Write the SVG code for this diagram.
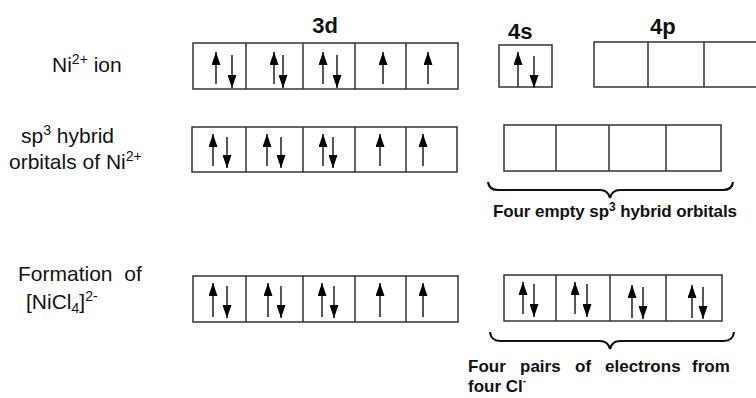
<svg xmlns="http://www.w3.org/2000/svg" width="756" height="398" viewBox="0 0 756 398">
<defs>
<marker id="ah" markerUnits="userSpaceOnUse" markerWidth="13" markerHeight="9" viewBox="0 0 13 9" refX="13" refY="4.5" orient="auto"><path d="M0,0 L13,4.5 L0,9 z" fill="#000"/></marker>
</defs>
<style>
.lbl{font-family:"Liberation Sans",Arial,sans-serif;font-size:21px;fill:#111}
.hd{font-family:"Liberation Sans",Arial,sans-serif;font-size:22px;font-weight:bold;fill:#111}
.note{font-family:"Liberation Sans",Arial,sans-serif;font-size:17px;font-weight:bold;fill:#111}
.box{fill:#fff;stroke:#333;stroke-width:1.5}
.div{stroke:#333;stroke-width:1.5}
.e{stroke:#444;stroke-width:1.8;marker-end:url(#ah);fill:none}
.brace{fill:none;stroke:#111;stroke-width:2.2}
</style>
<rect width="756" height="398" fill="#fff"/>

<g id="labels">
<text class="lbl" x="52" y="72">Ni<tspan font-size="14" dy="-8">2+</tspan><tspan dy="8"> ion</tspan></text>
<text class="lbl" x="21" y="143">sp<tspan font-size="14" dy="-8">3</tspan><tspan dy="8"> hybrid</tspan></text>
<text class="lbl" x="9" y="169">orbitals of Ni<tspan font-size="14" dy="-8">2+</tspan></text>
<text class="lbl" x="18" y="281" word-spacing="6">Formation of</text>
<text class="lbl" x="26" y="309">[NiCl<tspan font-size="14" dy="4">4</tspan><tspan dy="-4">]</tspan><tspan font-size="14" dy="-8">2-</tspan></text>
<text class="hd" x="325" y="33" text-anchor="middle">3d</text>
<text class="hd" x="508" y="39">4s</text>
<text class="hd" x="650" y="34">4p</text>
</g>

<g id="ni-3d">
<rect class="box" x="193" y="43" width="265" height="46"/>
<path class="div" d="M246,43V89M303,43V89M355,43V89M406,43V89"/>
<line class="e" x1="216" y1="84" x2="216" y2="52"/><line class="e" x1="232" y1="55" x2="232" y2="88"/>
<line class="e" x1="274" y1="84" x2="274" y2="52"/><line class="e" x1="283" y1="55" x2="283" y2="88"/>
<line class="e" x1="323" y1="84" x2="323" y2="52"/><line class="e" x1="337" y1="55" x2="337" y2="88"/>
<line class="e" x1="383" y1="84" x2="383" y2="52"/>
<line class="e" x1="428" y1="84" x2="428" y2="52"/>
</g>
<g id="ni-4s">
<rect class="box" x="499" y="45" width="53" height="42"/>
<line class="e" x1="518" y1="87" x2="518" y2="52"/><line class="e" x1="534" y1="56" x2="534" y2="88"/>
</g>
<g id="ni-4p">
<rect class="box" x="594" y="42" width="170" height="45"/>
<path class="div" d="M648,42V87M704,42V87"/>
</g>

<g id="sp3-3d">
<rect class="box" x="192" y="127" width="265" height="45"/>
<path class="div" d="M246,127V172M303,127V172M355,127V172M406,127V172"/>
<line class="e" x1="213" y1="166" x2="213" y2="134"/><line class="e" x1="227" y1="137" x2="227" y2="168"/>
<line class="e" x1="267" y1="166" x2="267" y2="134"/><line class="e" x1="281" y1="137" x2="281" y2="168"/>
<line class="e" x1="323" y1="166" x2="323" y2="134"/><line class="e" x1="333" y1="137" x2="333" y2="168"/>
<line class="e" x1="380" y1="166" x2="380" y2="134"/>
<line class="e" x1="423" y1="166" x2="423" y2="134"/>
</g>
<g id="sp3-hybrid">
<rect class="box" x="504" y="125" width="217" height="46"/>
<path class="div" d="M556,125V171M609,125V171M666,125V171"/>
<path class="brace" d="M488,182 Q489,190 498,190 H600 Q608,190 610,198 Q612,190 620,190 H723 Q732,190 733,182"/>
<text class="note" x="493" y="217" textLength="244">Four empty sp<tspan font-size="12" dy="-6">3</tspan><tspan dy="6"> hybrid orbitals</tspan></text>
</g>

<g id="complex-3d">
<rect class="box" x="193" y="276" width="265" height="46"/>
<path class="div" d="M246,276V322M303,276V322M355,276V322M406,276V322"/>
<line class="e" x1="213" y1="317" x2="213" y2="283"/><line class="e" x1="227" y1="286" x2="227" y2="318"/>
<line class="e" x1="268" y1="317" x2="268" y2="283"/><line class="e" x1="281" y1="286" x2="281" y2="318"/>
<line class="e" x1="322" y1="317" x2="322" y2="283"/><line class="e" x1="334" y1="286" x2="334" y2="318"/>
<line class="e" x1="380" y1="317" x2="380" y2="283"/>
<line class="e" x1="423" y1="317" x2="423" y2="283"/>
</g>
<g id="complex-hybrid">
<rect class="box" x="504" y="275" width="218" height="46"/>
<path class="div" d="M556,275V321M610,275V321M666,275V321"/>
<line class="e" x1="523" y1="314" x2="523" y2="282"/><line class="e" x1="534" y1="284" x2="534" y2="317"/>
<line class="e" x1="575" y1="314" x2="575" y2="282"/><line class="e" x1="587" y1="284" x2="587" y2="317"/>
<line class="e" x1="632" y1="318" x2="632" y2="285"/><line class="e" x1="643" y1="287" x2="643" y2="319"/>
<line class="e" x1="692" y1="318" x2="692" y2="285"/><line class="e" x1="703" y1="287" x2="703" y2="319"/>
<path class="brace" d="M490,332 Q491,341 500,341 H600 Q608,341 610,349 Q612,341 620,341 H724 Q733,341 734,332"/>
<text class="note" y="372"><tspan x="468">Four</tspan><tspan x="520">pairs</tspan><tspan x="575">of</tspan><tspan x="605">electrons</tspan><tspan x="692">from</tspan></text>
<text class="note" x="468" y="392">four Cl<tspan font-size="10" dy="-8">-</tspan></text>
</g>
</svg>
